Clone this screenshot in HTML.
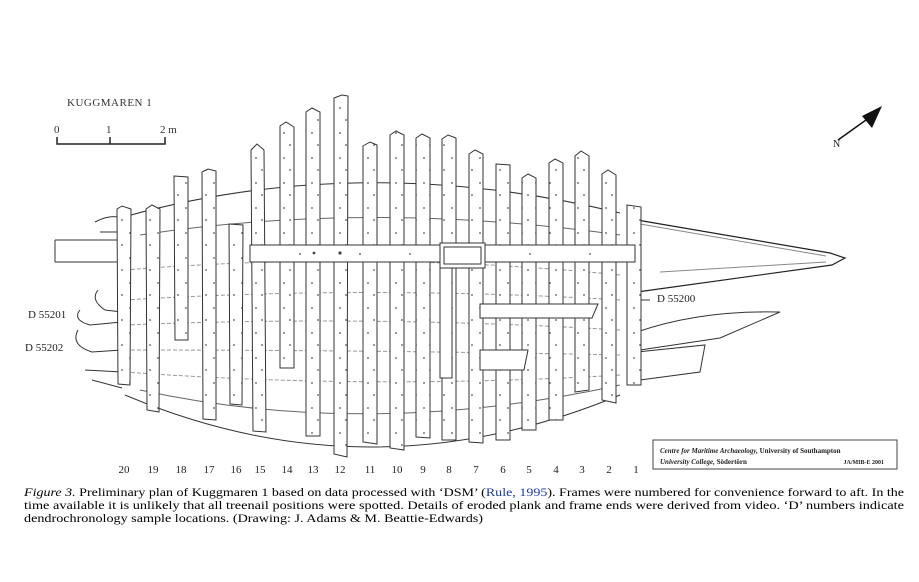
<!DOCTYPE html>
<html><head><meta charset="utf-8"><style>
html,body{margin:0;padding:0;background:#fff;}
svg{display:block;}
</style></head><body>
<svg width="919" height="582" viewBox="0 0 919 582" xmlns="http://www.w3.org/2000/svg" font-family="Liberation Serif, serif">
<defs>
<pattern id="dots" x="0" y="0" width="14" height="25" patternUnits="userSpaceOnUse">
<rect width="14" height="25" fill="#fff"/>
<circle cx="4" cy="8" r="0.9" fill="#555"/>
<circle cx="10" cy="20" r="0.9" fill="#555"/>
</pattern>
</defs>
<rect width="919" height="582" fill="#fff"/>
<text x="67" y="106" font-size="11" fill="#333" letter-spacing="0.5">KUGGMAREN 1</text>
<text x="54" y="133" font-size="11" fill="#333">0</text>
<text x="106" y="133" font-size="11" fill="#333">1</text>
<text x="160" y="133" font-size="11" fill="#333">2 m</text>
<path d="M57,137 V144 H165 V137 M110,137 V144" fill="none" stroke="#222" stroke-width="1.5"/>
<line x1="838" y1="140" x2="866" y2="120" stroke="#111" stroke-width="1.5"/>
<polygon points="882,106 862,116 872,128" fill="#111"/>
<text x="833" y="147" font-size="10" fill="#222">N</text>
<g fill="none" stroke="#333" stroke-width="1">
<path d="M120,218 Q360,150 620,213"/>
<path d="M125,395 Q370,499 620,395"/>
<path d="M55,240 H122 M55,262 H122 M55,240 V262"/>
<path d="M95,222 Q110,214 122,218 M100,232 H122"/>
<path d="M98,290 Q90,300 105,310 L122,312 M80,310 Q72,320 90,325 L122,322 M78,330 Q70,345 92,352 L122,350 M85,370 L122,372 M92,380 L122,388"/>
<path d="M125,270 Q370,250 620,275" stroke="#999" stroke-dasharray="4,2"/>
<path d="M125,300 Q370,285 620,300" stroke="#999" stroke-dasharray="4,2"/>
<path d="M125,325 Q370,315 620,330" stroke="#999" stroke-dasharray="4,2"/>
<path d="M125,350 Q370,350 620,355" stroke="#999" stroke-dasharray="4,2"/>
<path d="M125,372 Q370,390 620,375" stroke="#999" stroke-dasharray="4,2"/>
<path d="M140,235 Q370,200 620,235" stroke="#666"/>
<path d="M140,390 Q370,440 620,385" stroke="#666"/>
<path d="M637,220 L830,253 L845,258 L832,265 L637,292" stroke="#222" stroke-width="1.2"/>
<path d="M640,224 L826,256 M660,272 L826,262" stroke="#888"/>
<path d="M637,300 H650 M637,300 V330 M637,332 Q700,310 780,312 L720,338 L640,350"/>
<path d="M637,352 L705,345 L700,372 L640,380"/>
</g>
<g fill="url(#dots)" stroke="#333" stroke-width="1">
<polygon points="117,209 122,206 131,209 130,385 118,384"/>
<polygon points="146,209 152,205 160,209 159,412 147,410"/>
<polygon points="174,176 188,177 188,340 175,340"/>
<polygon points="202,172 208,169 216,171 216,420 203,419"/>
<polygon points="229,224 243,225 242,405 230,404"/>
<polygon points="251,150 257,144 264,150 266,432 253,431"/>
<polygon points="280,126 286,122 294,127 294,368 280,368"/>
<polygon points="306,112 312,108 320,112 320,436 306,436"/>
<polygon points="334,98 342,95 348,96 347,457 334,454"/>
<polygon points="363,146 370,142 377,145 377,444 363,442"/>
<polygon points="390,135 396,131 404,135 404,450 390,448"/>
<polygon points="416,138 422,134 430,138 430,438 416,437"/>
<polygon points="442,139 448,135 456,138 456,440 442,440"/>
<polygon points="469,154 475,150 483,154 483,443 469,442"/>
<polygon points="496,164 510,165 510,440 496,440"/>
<polygon points="522,178 528,174 536,178 536,430 522,430"/>
<polygon points="549,163 555,159 563,163 563,420 549,420"/>
<polygon points="575,156 581,151 589,156 589,390 575,392"/>
<polygon points="602,174 608,170 616,175 616,403 602,400"/>
<polygon points="627,205 641,207 641,385 627,385"/>
</g>
<g fill="#fff" stroke="#333" stroke-width="1">
<path d="M250,245 H635 V262 H250 Z"/>
<path d="M480,304 H598 L592,318 H480 Z"/>
<path d="M480,350 H528 L524,370 H480 Z"/>
<rect x="440" y="243" width="45" height="25"/>
<rect x="444" y="247" width="37" height="17"/>
<rect x="440" y="268" width="12" height="110"/>
</g>
<g fill="#444">
<circle cx="300" cy="254" r="0.9"/><circle cx="360" cy="254" r="0.9"/><circle cx="410" cy="254" r="0.9"/><circle cx="530" cy="254" r="0.9"/><circle cx="590" cy="254" r="0.9"/>
<circle cx="340" cy="253" r="1.6"/><circle cx="314" cy="253" r="1.4"/>
</g>
<g font-size="11" fill="#222" text-anchor="middle">
<text x="124" y="473">20</text><text x="153" y="473">19</text><text x="181" y="473">18</text><text x="209" y="473">17</text><text x="236" y="473">16</text><text x="260" y="473">15</text><text x="287" y="473">14</text><text x="313" y="473">13</text><text x="340" y="473">12</text><text x="370" y="473">11</text><text x="397" y="473">10</text><text x="423" y="473">9</text><text x="449" y="473">8</text><text x="476" y="473">7</text><text x="503" y="473">6</text><text x="529" y="473">5</text><text x="556" y="473">4</text><text x="582" y="473">3</text><text x="609" y="473">2</text><text x="636" y="473">1</text>
</g>
<text x="28" y="318" font-size="11" fill="#222">D 55201</text>
<text x="25" y="351" font-size="11" fill="#222">D 55202</text>
<text x="657" y="302" font-size="11" fill="#222">D 55200</text>
<rect x="653" y="440" width="244" height="29" fill="#fff" stroke="#444" stroke-width="1"/>
<text x="660" y="453" font-size="7" font-weight="bold" fill="#222"><tspan font-style="italic">Centre for Maritime Archaeology,</tspan> University of Southampton</text>
<text x="660" y="464" font-size="7" font-weight="bold" fill="#222"><tspan font-style="italic">University College,</tspan> Södertörn</text>
<text x="884" y="464" font-size="6" font-weight="bold" fill="#222" text-anchor="end">JA/MIB-E 2001</text>
<g font-size="12" fill="#000">
<text x="24" y="496" textLength="880" lengthAdjust="spacingAndGlyphs"><tspan font-style="italic">Figure 3.</tspan> Preliminary plan of Kuggmaren 1 based on data processed with ‘DSM’ (<tspan fill="#1a3a9a">Rule, 1995</tspan>). Frames were numbered for convenience forward to aft. In the</text>
<text x="24" y="509" textLength="880" lengthAdjust="spacingAndGlyphs">time available it is unlikely that all treenail positions were spotted. Details of eroded plank and frame ends were derived from video. ‘D’ numbers indicate</text>
<text x="24" y="522" textLength="459" lengthAdjust="spacingAndGlyphs">dendrochronology sample locations. (Drawing: J. Adams &amp; M. Beattie-Edwards)</text>
</g>
</svg>
</body></html>
